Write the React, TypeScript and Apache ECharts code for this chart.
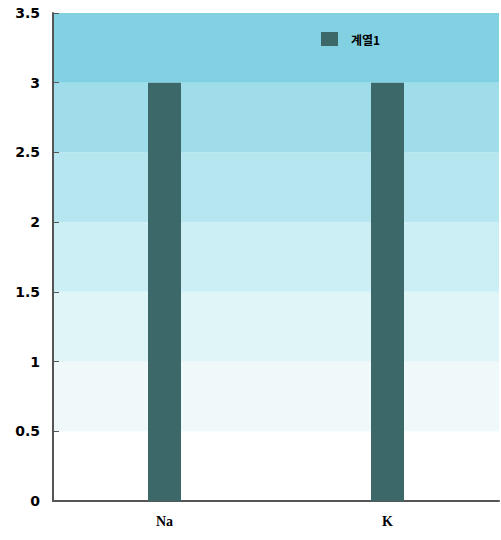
import React, { useEffect, useRef } from "react";
import * as echarts from "echarts";

const categories = ["Na", "K"];
const seriesName = "계열1";
const seriesValues = [3, 3];
const yMin = 0;
const yMax = 3.5;
const yInterval = 0.5;
const bandColors = ["#ffffff", "#eff9fa", "#dff5f8", "#cbeff5", "#b6e7f1", "#a0ddeb", "#82d1e2"];

export default function App() {
  const ref = useRef<HTMLDivElement>(null);
  useEffect(() => {
    document.body.style.margin = "0";
    const chart = echarts.init(ref.current!, null, { renderer: "svg" });
    chart.setOption({
      animation: false,
      backgroundColor: "#ffffff",
      grid: { left: 53, right: 2, top: 13, bottom: 39 },
      legend: {
        left: 316,
        top: 27,
        icon: "rect",
        itemWidth: 17,
        itemHeight: 14,
        data: [seriesName],
        textStyle: {
          fontFamily: "Noto Sans CJK KR",
          fontWeight: "bold",
          fontSize: 12,
          color: "#000",
          padding: [0, 0, 0, 8],
        },
      },
      xAxis: {
        type: "category",
        data: categories,
        axisLine: { lineStyle: { color: "#555", width: 2 } },
        axisTick: { inside: true, length: 6, lineStyle: { color: "#555" } },
        axisLabel: {
          margin: 13,
          fontFamily: "Liberation Serif",
          fontWeight: "bold",
          fontSize: 14,
          color: "#000",
        },
      },
      yAxis: {
        type: "value",
        min: yMin,
        max: yMax,
        interval: yInterval,
        axisLine: { show: true, lineStyle: { color: "#555", width: 2 } },
        axisTick: { show: true, inside: true, length: 6, lineStyle: { color: "#555" } },
        axisLabel: {
          margin: 13,
          fontFamily: "DejaVu Sans",
          fontWeight: "bold",
          fontSize: 14,
          color: "#000",
        },
        splitLine: { show: false },
        splitArea: { show: true, areaStyle: { color: bandColors } },
      },
      series: [
        {
          name: seriesName,
          type: "bar",
          data: seriesValues,
          barWidth: 33,
          itemStyle: { color: "#3d6869" },
        },
      ],
    });
    return () => chart.dispose();
  }, []);
  return <div ref={ref} style={{ width: 501, height: 540 }} />;
}
